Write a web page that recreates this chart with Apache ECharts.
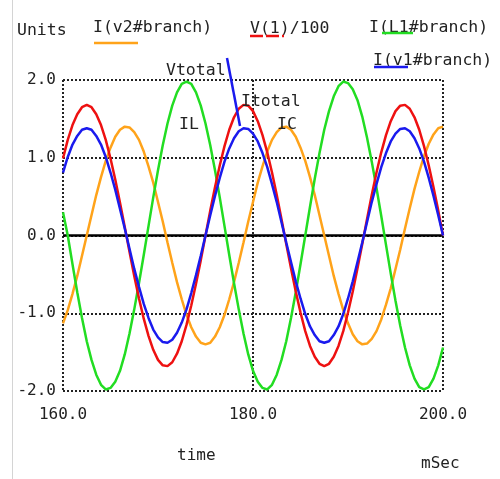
<!DOCTYPE html>
<html>
<head>
<meta charset="utf-8">
<script src="https://cdn.jsdelivr.net/npm/echarts@6/dist/echarts.min.js"></script>
<style>
html,body{margin:0;padding:0;background:#fff;}
#c{width:500px;height:479px;}
</style>
</head>
<body>
<div id="c"></div>
<script>
// time axis (mSec)
const time = [160,160.5,161,161.5,162,162.5,163,163.5,164,164.5,165,165.5,166,166.5,167,167.5,168,168.5,169,169.5,170,170.5,171,171.5,172,172.5,173,173.5,174,174.5,175,175.5,176,176.5,177,177.5,178,178.5,179,179.5,180,180.5,181,181.5,182,182.5,183,183.5,184,184.5,185,185.5,186,186.5,187,187.5,188,188.5,189,189.5,190,190.5,191,191.5,192,192.5,193,193.5,194,194.5,195,195.5,196,196.5,197,197.5,198,198.5,199,199.5,200];

// I(v2#branch)  (IC, orange)
const iv2 = [-1.13,-0.96,-0.75,-0.52,-0.26,0.00,0.26,0.52,0.75,0.96,1.13,
 1.27,1.36,1.40,1.39,1.33,1.23,1.08,0.89,0.68,0.43,
 0.18,-0.09,-0.35,-0.60,-0.82,-1.02,-1.18,-1.30,-1.38,-1.40,
 -1.38,-1.30,-1.18,-1.02,-0.82,-0.60,-0.35,-0.09,0.18,0.43,
 0.68,0.89,1.08,1.23,1.33,1.39,1.40,1.36,1.27,1.13,
 0.96,0.75,0.52,0.26,0.00,-0.26,-0.52,-0.75,-0.96,-1.13,
 -1.27,-1.36,-1.40,-1.39,-1.33,-1.23,-1.08,-0.89,-0.68,-0.43,
 -0.18,0.09,0.35,0.60,0.82,1.02,1.18,1.30,1.38,1.40];

// V(1)/100  (Vtotal, red)
const v1 = [0.99,1.23,1.42,1.56,1.65,1.68,1.65,1.56,1.42,1.23,0.99,
 0.72,0.42,0.11,-0.21,-0.52,-0.81,-1.07,-1.29,-1.47,-1.60,
 -1.67,-1.68,-1.63,-1.52,-1.36,-1.15,-0.90,-0.62,-0.32,0.00,
 0.32,0.62,0.90,1.15,1.36,1.52,1.63,1.68,1.67,1.60,
 1.47,1.29,1.07,0.81,0.52,0.21,-0.11,-0.42,-0.72,-0.99,
 -1.23,-1.42,-1.56,-1.65,-1.68,-1.65,-1.56,-1.42,-1.23,-0.99,
 -0.72,-0.42,-0.11,0.21,0.52,0.81,1.07,1.29,1.47,1.60,
 1.67,1.68,1.63,1.52,1.36,1.15,0.90,0.62,0.32,0.00];

// I(L1#branch)  (IL, green)
const iL1 = [0.30,0.00,-0.37,-0.73,-1.06,-1.36,-1.60,-1.79,-1.92,-1.98,-1.96,
 -1.88,-1.74,-1.53,-1.26,-0.95,-0.61,-0.25,0.12,0.49,0.84,
 1.16,1.44,1.67,1.84,1.95,1.98,1.95,1.84,1.67,1.44,
 1.16,0.84,0.49,0.12,-0.25,-0.61,-0.95,-1.26,-1.53,-1.74,
 -1.88,-1.96,-1.98,-1.92,-1.79,-1.60,-1.36,-1.06,-0.73,-0.37,
 0.00,0.37,0.73,1.06,1.36,1.60,1.79,1.92,1.98,1.96,
 1.88,1.74,1.53,1.26,0.95,0.61,0.25,-0.12,-0.49,-0.84,
 -1.16,-1.44,-1.67,-1.84,-1.95,-1.98,-1.95,-1.84,-1.67,-1.44];

// I(v1#branch)  (Itotal, blue)
const iv1 = [0.81,1.01,1.17,1.28,1.36,1.38,1.36,1.28,1.17,1.01,0.81,
 0.59,0.34,0.09,-0.17,-0.43,-0.66,-0.88,-1.06,-1.21,-1.31,
 -1.37,-1.38,-1.34,-1.25,-1.12,-0.95,-0.74,-0.51,-0.26,0.00,
 0.26,0.51,0.74,0.95,1.12,1.25,1.34,1.38,1.37,1.31,
 1.21,1.06,0.88,0.66,0.43,0.17,-0.09,-0.34,-0.59,-0.81,
 -1.01,-1.17,-1.28,-1.36,-1.38,-1.36,-1.28,-1.17,-1.01,-0.81,
 -0.59,-0.34,-0.09,0.17,0.43,0.66,0.88,1.06,1.21,1.31,
 1.37,1.38,1.34,1.25,1.12,0.95,0.74,0.51,0.26,0.00];

const zeroLine = [[160,0],[200,0]];

const FONT = '"DejaVu Sans Mono", "Liberation Mono", monospace';
const TXT = '#222';

function pair(ys){ return time.map((t,i)=>[t, ys[i]]); }

const chart = echarts.init(document.getElementById('c'), null, {renderer:'canvas'});

function label(text, x, y, size, color, align){
  return {type:'text', left:x, top:y, silent:true, z:100,
    style:{text:text, x:0, y:0, fill:color||TXT, font:(size||16)+'px '+FONT,
      textAlign:align||'left', textVerticalAlign:'middle'}};
}
function seg(x1,y1,x2,y2,color,w,dash){
  return {type:'line', silent:true, z:100,
    shape:{x1:x1,y1:y1,x2:x2,y2:y2},
    style:{stroke:color, lineWidth:w||2, lineDash:dash||null}};
}

const option = {
  backgroundColor:'#fff',
  animation:false,
  grid:{left:63, right:57, top:80, bottom:88, containLabel:false},
  xAxis:{type:'value', min:160, max:200, interval:20,
    axisLine:{show:false}, axisTick:{show:false},
    axisLabel:{formatter:v=>v.toFixed(1), fontFamily:FONT, fontSize:16, color:TXT, margin:16},
    splitLine:{show:true, lineStyle:{color:'#222', width:2, type:[2,2]}}},
  yAxis:{type:'value', min:-2, max:2, interval:1,
    axisLine:{show:false}, axisTick:{show:false},
    axisLabel:{formatter:v=>v.toFixed(1), fontFamily:FONT, fontSize:16, color:TXT, margin:7},
    splitLine:{show:true, lineStyle:{color:'#222', width:2, type:[2,2]}}},
  series:[
    {type:'line', data:zeroLine, symbol:'none', lineStyle:{color:'#000', width:2.5}, z:2},
    {type:'line', data:pair(iv2), symbol:'none', lineStyle:{color:'#ffa31a', width:2.5}, z:3},
    {type:'line', data:pair(iL1), symbol:'none', lineStyle:{color:'#22dd22', width:2.5}, z:3},
    {type:'line', data:pair(v1), symbol:'none', lineStyle:{color:'#ee1111', width:2.5}, z:4},
    {type:'line', data:pair(iv1), symbol:'none', lineStyle:{color:'#1a1aee', width:2.5}, z:5}
  ],
  graphic:[
    seg(12.5,0,12.5,479,'#d4d4d4',1),
    label('Units', 17, 22, 16.5),
    label('I(v2#branch)', 93, 19, 16.5),
    seg(94,43,138,43,'#ffa31a',2.5),
    label('V(1)/100', 250, 20, 16.5),
    seg(250,36,284,36,'#ee1111',2.5,[13,3]),
    label('I(L1#branch)', 369, 19, 16.5),
    seg(382,33,413,33,'#22dd22',2.5),
    label('I(v1#branch)', 373, 52, 16.5),
    seg(374,67,408,67,'#1a1aee',2.5),
    label('Vtotal', 166, 62, 16.5),
    seg(227,58,240,126,'#1a1aee',2.5),
    label('Itotal', 241, 93, 16.5),
    label('IL', 179, 116, 16.5),
    label('IC', 277, 116, 16.5),
    label('time', 177, 448, 16),
    label('mSec', 421, 456, 16)
  ]
};
chart.setOption(option);
</script>
</body>
</html>
